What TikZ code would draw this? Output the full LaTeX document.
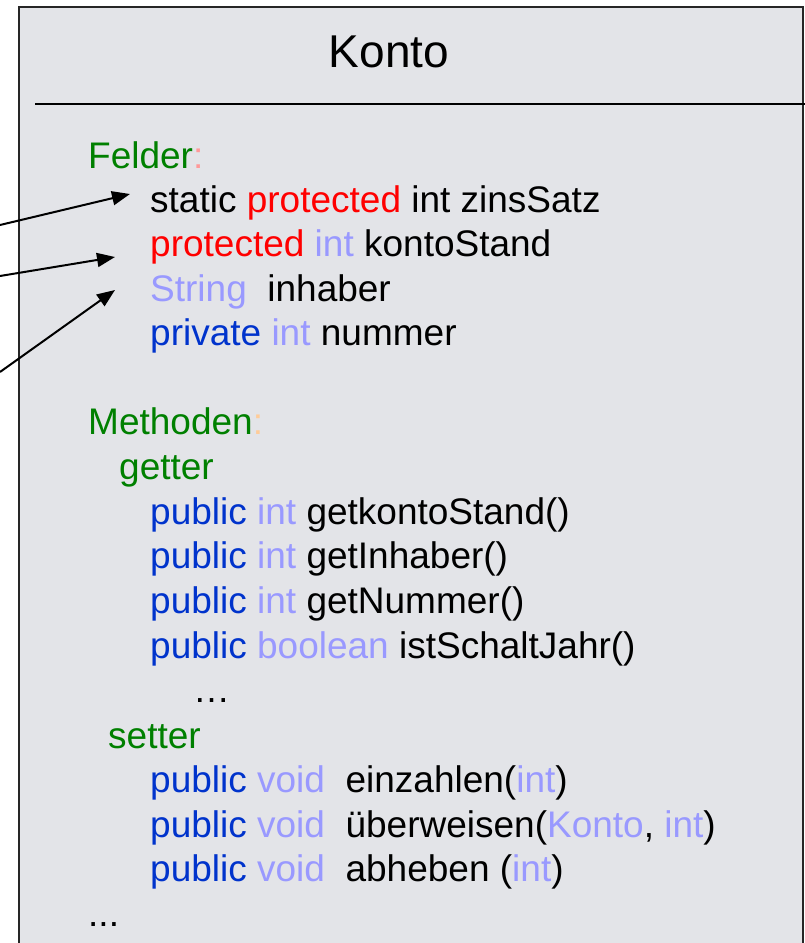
\documentclass[tikz,border=0pt]{standalone}
\usepackage{fontspec}
\setmainfont{Liberation Sans}
\usetikzlibrary{arrows.meta}

\definecolor{boxfill}{HTML}{E3E4E8}
\definecolor{kwgreen}{HTML}{008000}
\definecolor{kwred}{HTML}{FF0000}
\definecolor{kwblue}{HTML}{0033CC}
\definecolor{kwtype}{HTML}{9999FF}
\definecolor{colpink}{HTML}{FF9999}
\definecolor{colorange}{HTML}{FFCC99}

\newcommand{\cgrn}[1]{\textcolor{kwgreen}{#1}}
\newcommand{\cred}[1]{\textcolor{kwred}{#1}}
\newcommand{\cblu}[1]{\textcolor{kwblue}{#1}}
\newcommand{\ctyp}[1]{\textcolor{kwtype}{#1}}

\begin{document}
\begin{tikzpicture}[x=1pt,y=-1pt,
  codeline/.style={anchor=base west,inner sep=0pt,text height=27pt,text depth=8pt,
    font=\fontsize{37}{44}\selectfont},
  pointer/.style={-{Triangle[length=18pt,width=14pt]},line width=2pt}]
\useasboundingbox (0,0) rectangle (805,943);
\clip (0,0) rectangle (805,943);

% class box and header divider
\draw[fill=boxfill,line width=1.8pt,draw=black!85] (19,7) rectangle (803,1000);
\draw[line width=1.5pt] (35,104) -- (805,104);

\node[anchor=base,inner sep=0pt,font=\fontsize{46}{50}\selectfont] (title) at (389,67) {Konto};

% fields
\node[codeline] (felder) at (88,168) {\cgrn{Felder}\textcolor{colpink}{:}};
\node[codeline] (f1) at (150,212) {static \cred{protected} int zinsSatz};
\node[codeline] (f2) at (150,256) {\cred{protected} \ctyp{int} kontoStand};
\node[codeline] (f3) at (150,301) {\ctyp{String}\ \ inhaber};
\node[codeline] (f4) at (150,345) {\cblu{private} \ctyp{int} nummer};

% methods
\node[codeline] (methoden) at (88,434) {\cgrn{Methoden}\textcolor{colorange}{:}};
\node[codeline] (getter) at (119,479) {\cgrn{getter}};
\node[codeline] (m1) at (150,524) {\cblu{public} \ctyp{int} getkontoStand()};
\node[codeline] (m2) at (150,568) {\cblu{public} \ctyp{int} getInhaber()};
\node[codeline] (m3) at (150,613) {\cblu{public} \ctyp{int} getNummer()};
\node[codeline] (m4) at (150,658) {\cblu{public} \ctyp{boolean} istSchaltJahr()};
\node[codeline] (gdots) at (193,702) {…};
\node[codeline] (setter) at (108,748) {\cgrn{setter}};
\node[codeline] (s1) at (150,792) {\cblu{public} \ctyp{void}\ \ einzahlen(\ctyp{int})};
\node[codeline] (s2) at (150,837) {\cblu{public} \ctyp{void}\ \ überweisen(\ctyp{Konto}, \ctyp{int})};
\node[codeline] (s3) at (150,881) {\cblu{public} \ctyp{void}\ \ abheben (\ctyp{int})};
\node[codeline] (more) at (88,926) {...};

% pointers onto the fields
\coordinate (p1) at (0,225);
\coordinate (p2) at (0,276);
\coordinate (p3) at (0,372);
\draw[pointer] (p1) -- ([xshift=-20pt,yshift=8.5pt]f1.west);
\draw[pointer] (p2) -- ([xshift=-35pt,yshift=-10.5pt]f2.west);
\draw[pointer] (p3) -- ([xshift=-35pt,yshift=1.5pt]f3.west);
\end{tikzpicture}
\end{document}
